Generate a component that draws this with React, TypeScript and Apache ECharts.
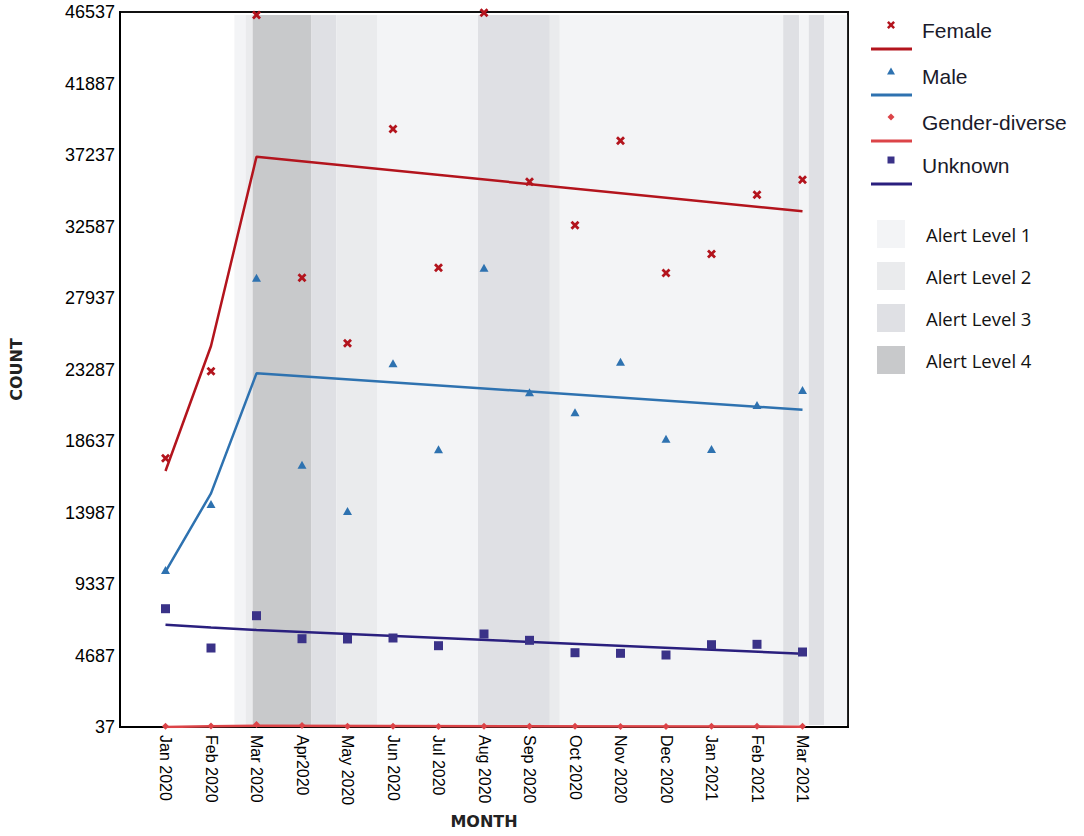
import React, { useEffect, useRef } from "react";
import * as echarts from "echarts";

const months = ["Jan 2020", "Feb 2020", "Mar 2020", "Apr2020", "May 2020", "Jun 2020", "Jul 2020", "Aug 2020", "Sep 2020", "Oct 2020", "Nov 2020", "Dec 2020", "Jan 2021", "Feb 2021", "Mar 2021"];
const female = [17511, 23168, 46340, 29255, 24989, 38925, 29905, 46490, 35498, 32663, 38164, 29561, 30796, 34652, 35628];
const male = [10247, 14539, 29255, 17094, 14083, 23688, 18096, 29905, 21803, 20502, 23793, 18785, 18115, 20977, 21952];
const genderDiverse = [80, 100, 200, 130, 90, 80, 70, 80, 90, 80, 70, 70, 80, 80, 90];
const unknown = [7730, 5174, 7275, 5779, 5760, 5825, 5324, 6085, 5675, 4869, 4830, 4719, 5389, 5415, 4914];

const trendIndex = [0, 1, 2, 14];
const femaleTrend = [16685, 24813, 37124, 33573];
const maleTrend = [10136, 15234, 23038, 20671];
const genderDiverseTrend = [40, 90, 120, 60];
const unknownTrend = [6690, 6510, 6345, 4804];

const yTicks = [37, 4687, 9337, 13987, 18637, 23287, 27937, 32587, 37237, 41887, 46537];

// alert level periods, in month-index units
const bandStart = [1.514, 1.762, 1.915, 3.208, 3.756, 4.648, 6.868, 8.447, 8.666, 13.575, 13.926, 14.138, 14.474];
const bandEnd = [1.762, 1.915, 3.208, 3.756, 4.648, 6.868, 8.447, 8.666, 13.575, 13.926, 14.138, 14.474, 14.98];
const bandLevel = [1, 2, 4, 3, 2, 1, 3, 2, 1, 3, 1, 3, 1];
const bandLow = 167;
const bandHigh = 46338;

const levelNames = ["Alert Level 1", "Alert Level 2", "Alert Level 3", "Alert Level 4"];
const levelColors = ["#f3f4f6", "#eaebed", "#dfe0e4", "#c8c9cb"];

const FEMALE = "#b3141d";
const MALE = "#2e72b0";
const GD = "#dc4448";
const UNK = "#3a3288";
const UNK_LINE = "#2a1f7e";

const X_PATH = "path://M0,2.2 L2.2,0 L5,2.8 L7.8,0 L10,2.2 L7.2,5 L10,7.8 L7.8,10 L5,7.2 L2.2,10 L0,7.8 L2.8,5 Z";

function xPoly(cx: number, cy: number, s: number) {
  const p = [[0, 2.2], [2.2, 0], [5, 2.8], [7.8, 0], [10, 2.2], [7.2, 5], [10, 7.8], [7.8, 10], [5, 7.2], [2.2, 10], [0, 7.8], [2.8, 5]];
  return p.map(([a, b]) => [cx + (a - 5) * s / 10, cy + (b - 5) * s / 10]);
}

export default function App() {
  const ref = useRef<HTMLDivElement>(null);
  useEffect(() => {
    if (!ref.current) return;
    const chart = echarts.init(ref.current, null, { renderer: "svg" });
    const pts = (arr: number[]) => arr.map((v, i) => [i, v]);
    const trend = (arr: number[]) => arr.map((v, i) => [trendIndex[i], v]);

    const legendX = 891;
    const legendItems = [
      { name: "Female", y: 25, line: FEMALE, kind: "x", color: FEMALE },
      { name: "Male", y: 71, line: MALE, kind: "tri", color: MALE },
      { name: "Gender-diverse", y: 117, line: GD, kind: "dia", color: GD },
      { name: "Unknown", y: 160, line: UNK_LINE, kind: "sq", color: UNK },
    ];
    const graphics: any[] = [];
    legendItems.forEach((it) => {
      let shape: any;
      if (it.kind === "x") shape = { type: "polygon", shape: { points: xPoly(legendX, it.y, 8) }, style: { fill: it.color } };
      else if (it.kind === "tri") shape = { type: "polygon", shape: { points: [[legendX - 4, it.y + 3.5], [legendX + 4, it.y + 3.5], [legendX, it.y - 3.5]] }, style: { fill: it.color } };
      else if (it.kind === "dia") shape = { type: "polygon", shape: { points: [[legendX - 3.5, it.y], [legendX, it.y - 3.5], [legendX + 3.5, it.y], [legendX, it.y + 3.5]] }, style: { fill: it.color } };
      else shape = { type: "rect", shape: { x: legendX - 3.5, y: it.y - 3.5, width: 7, height: 7 }, style: { fill: it.color } };
      graphics.push(shape);
      graphics.push({ type: "line", shape: { x1: 871, y1: it.y + 24, x2: 912, y2: it.y + 24 }, style: { stroke: it.line, lineWidth: 3 } });
      graphics.push({
        type: "text", x: 922, y: it.y + 5,
        style: { text: it.name, fill: "#1a1a2a", font: "21px 'Liberation Sans', Arial, sans-serif", textVerticalAlign: "middle" },
      });
    });
    const swY = [220, 262, 304, 346];
    levelNames.forEach((n, i) => {
      graphics.push({ type: "rect", shape: { x: 877, y: swY[i], width: 28, height: 28 }, style: { fill: levelColors[i] } });
      graphics.push({
        type: "text", x: 926, y: swY[i] + 14,
        style: { text: n, fill: "#111", font: "18.5px 'Open Sans', sans-serif", textVerticalAlign: "middle" },
      });
    });

    const bandData = bandStart.map((s, i) => [
      { xAxis: s, yAxis: bandLow, itemStyle: { color: levelColors[bandLevel[i] - 1] } },
      { xAxis: bandEnd[i], yAxis: bandHigh },
    ]);

    chart.setOption({
      animation: false,
      backgroundColor: "#fff",
      textStyle: { fontFamily: "'Liberation Sans', Arial, sans-serif" },
      grid: { left: 118, right: 236, top: 12, bottom: 109, show: true, borderColor: "#111", borderWidth: 2, backgroundColor: "#fff" },
      xAxis: {
        type: "value", min: -1, max: 15, interval: 1,
        name: "MONTH", nameLocation: "middle", nameGap: 86,
        nameTextStyle: { fontFamily: "'DejaVu Sans', sans-serif", fontWeight: "bold", fontSize: 16, color: "#222" },
        axisLine: { show: true, onZero: false, lineStyle: { color: "#000", width: 2 } },
        axisTick: { show: false },
        splitLine: { show: false },
        axisLabel: {
          rotate: -90, fontSize: 16, color: "#000", margin: 8,
          formatter: (v: number) => (months[v] !== undefined ? months[v] : ""),
        },
      },
      yAxis: {
        type: "value", min: 37, max: 46537,
        name: "COUNT", nameLocation: "middle", nameGap: 96,
        nameTextStyle: { fontFamily: "'DejaVu Sans', sans-serif", fontWeight: "bold", fontSize: 16, color: "#222" },
        axisLine: { show: true, onZero: false, lineStyle: { color: "#000", width: 2 } },
        axisTick: { show: false },
        splitLine: { show: false },
        axisLabel: { fontSize: 18, color: "#000", margin: 5, customValues: yTicks, formatter: (v: number) => String(v) },
      },
      graphic: graphics,
      series: [
        {
          type: "line", data: [], silent: true, z: 1,
          markArea: { silent: true, data: bandData },
        },
        { type: "line", data: trend(genderDiverseTrend), symbol: "none", z: 3, lineStyle: { color: GD, width: 2.5 } },
        { type: "line", data: trend(femaleTrend), symbol: "none", z: 3, lineStyle: { color: FEMALE, width: 2.5 } },
        { type: "line", data: trend(maleTrend), symbol: "none", z: 3, lineStyle: { color: MALE, width: 2.5 } },
        { type: "line", data: trend(unknownTrend), symbol: "none", z: 3, lineStyle: { color: UNK_LINE, width: 2.5 } },
        { type: "scatter", data: pts(female), symbol: X_PATH, symbolSize: 9, z: 4, itemStyle: { color: FEMALE, opacity: 1 } },
        { type: "scatter", data: pts(male), symbol: "triangle", symbolSize: [9, 8], z: 4, itemStyle: { color: MALE, opacity: 1 } },
        { type: "scatter", data: pts(genderDiverse), symbol: "diamond", symbolSize: 7, z: 4, itemStyle: { color: GD, opacity: 1 } },
        { type: "scatter", data: pts(unknown), symbol: "rect", symbolSize: 9, z: 4, itemStyle: { color: UNK, opacity: 1 } },
      ],
    });
    return () => chart.dispose();
  }, []);
  return <div ref={ref} style={{ position: "fixed", left: 0, top: 0, width: 1084, height: 836 }} />;
}
